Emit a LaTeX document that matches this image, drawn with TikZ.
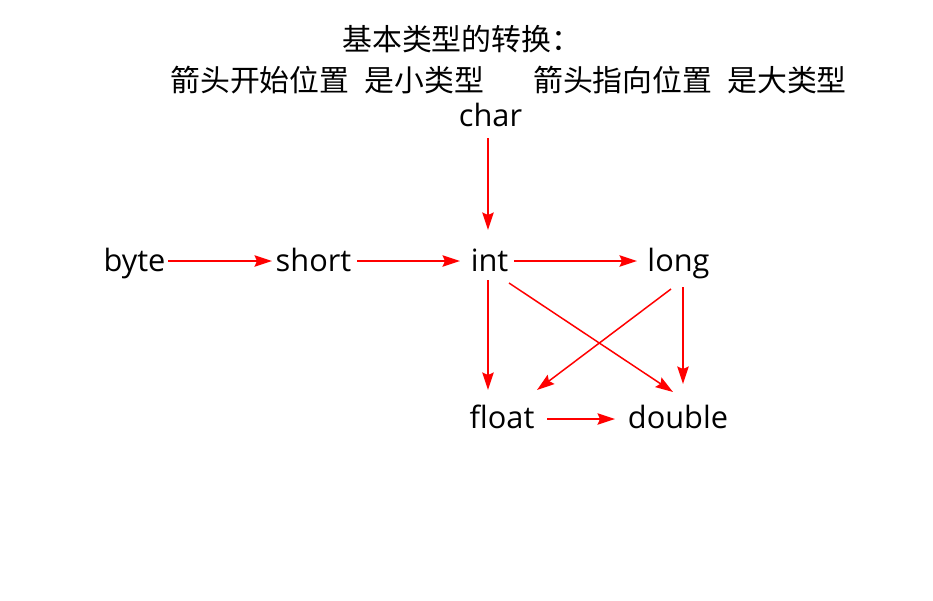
\documentclass[tikz,border=0pt]{standalone}
\usepackage{fontspec}
\setmainfont{Open Sans}
\newfontfamily\cjk{Noto Sans CJK SC}
\usepackage{tikz}
\usetikzlibrary{arrows.meta}
\tikzstyle{title} = [inner sep=0, anchor=base west, font=\cjk\fontsize{17}{20}\selectfont]
\tikzstyle{typ} = [inner sep=0, anchor=base, font=\fontsize{17.5}{20}\selectfont]
\tikzstyle{arrow} = [red, line width=0.85pt, -{Stealth[length=10pt, width=6.5pt, inset=1.5pt]}]

\begin{document}
\begin{tikzpicture}[x=0.02cm, y=-0.02cm]
        \useasboundingbox (0,0) rectangle (933,600);
        \node (head) [title] at (342,50) {基本类型的转换：};
        \node (rule) [title] at (170,91) {箭头开始位置\hspace{0.5em}是小类型\hspace{1.65em}箭头指向位置\hspace{0.5em}是大类型};
        \node (char) [typ] at (490.5,126) {char};
        \node (byte) [typ] at (134.5,271) {byte};
        \node (short) [typ] at (313.5,271) {short};
        \node (int) [typ] at (489.5,271) {int};
        \node (long) [typ] at (678.5,271) {long};
        \node (float) [typ] at (502,428) {float};
        \node (double) [typ] at (678,428) {double};
        \draw [arrow] ([shift={(-2.5,12)}]char.base) -- ([shift={(-1.5,-41)}]int.base);
        \draw [arrow] ([shift={(33.5,-10)}]byte.base) -- ([shift={(-41.5,-10)}]short.base);
        \draw [arrow] ([shift={(43.5,-10)}]short.base) -- ([shift={(-29.5,-10)}]int.base);
        \draw [arrow] ([shift={(24.5,-10)}]int.base) -- ([shift={(-41.5,-10)}]long.base);
        \draw [arrow] ([shift={(-1.5,9)}]int.base) -- ([shift={(-14,-38)}]float.base);
        \draw [arrow] ([shift={(19.5,12)}]int.base) -- ([shift={(-5,-36)}]double.base);
        \draw [arrow] ([shift={(-7.5,18)}]long.base) -- ([shift={(35,-38)}]float.base);
        \draw [arrow] ([shift={(4.5,16)}]long.base) -- ([shift={(5,-44)}]double.base);
        \draw [arrow] ([shift={(45,-9)}]float.base) -- ([shift={(-63,-9)}]double.base);
\end{tikzpicture}
\end{document}
